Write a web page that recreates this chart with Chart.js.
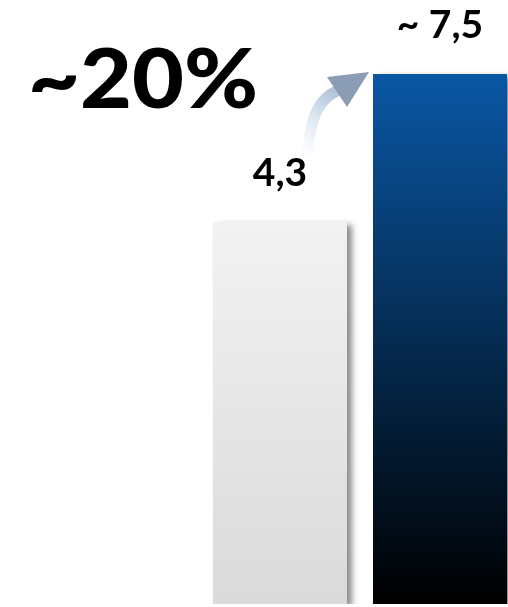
<!DOCTYPE html>
<html>
<head>
<meta charset="utf-8">
<script src="https://cdn.jsdelivr.net/npm/chart.js@4"></script>
<style>
  html, body { margin: 0; padding: 0; background: #fff; overflow: hidden; }
  #wrap { width: 520px; height: 607px; position: relative; }
</style>
</head>
<body>
<div id="wrap"><canvas id="graph"></canvas></div>
<script>
var categories = ['Ist', 'Prognose'];
var values = [4.3, 7.5];
var valueLabels = ['4,3', '~ 7,5'];
var growthLabel = '~20%';
var yMin = -3.96;
var yMax = 9.1;

var context = document.querySelector('#graph').getContext('2d');

function barGradient(ctx, top, bottom, from, to) {
  var g = ctx.createLinearGradient(0, top, 0, bottom);
  g.addColorStop(0, from);
  g.addColorStop(1, to);
  return g;
}

function barFill(c) {
  var chart = c.chart;
  var area = chart.chartArea;
  var yScale = chart.scales.y;
  if (!area || !yScale) return '#ddd';
  var top = yScale.getPixelForValue(values[c.dataIndex]);
  if (!isFinite(top) || !isFinite(area.bottom)) return '#ddd';
  if (c.dataIndex === 0) {
    return barGradient(chart.ctx, top, area.bottom, '#f2f2f2', '#dadada');
  }
  return barGradient(chart.ctx, top, area.bottom, '#0a57a4', '#000000');
}

var decorations = {
  id: 'decorations',
  beforeDatasetsDraw: function(chart) {
    var ctx = chart.ctx;
    ctx.save();
    ctx.shadowColor = 'rgba(0,0,0,0.45)';
    ctx.shadowBlur = 6;
    ctx.shadowOffsetX = 5;
    ctx.shadowOffsetY = 3;
  },
  afterDatasetsDraw: function(chart) {
    var ctx = chart.ctx;
    ctx.restore();
    var bars = chart.getDatasetMeta(0).data;

    // value labels
    ctx.save();
    ctx.fillStyle = '#000';
    ctx.textAlign = 'center';
    ctx.textBaseline = 'alphabetic';
    ctx.font = 'bold 39px Lato';
    bars.forEach(function(b, i) {
      ctx.fillText(valueLabels[i], b.x, b.y - 36);
    });

    // big growth text, stretched a little to the wide original face
    ctx.textAlign = 'left';
    ctx.font = '900 82px Lato';
    var w = ctx.measureText(growthLabel).width;
    ctx.translate(28, 108);
    ctx.scale(230 / w, 1);
    ctx.fillText(growthLabel, 0, 0);
    ctx.restore();

    // curved arrow between the bars
    var a = bars[0], b = bars[1];
    var sx = a.x + 28, sy = a.y - 68;
    var tipX = b.x - b.width / 2 - 4, tipY = b.y - 2;
    ctx.save();
    var grad = ctx.createLinearGradient(sx, sy, tipX, tipY);
    grad.addColorStop(0, 'rgba(220,232,244,0.1)');
    grad.addColorStop(0.5, 'rgba(196,212,230,1)');
    grad.addColorStop(1, '#8a9db3');
    ctx.strokeStyle = grad;
    ctx.lineWidth = 11;
    ctx.beginPath();
    ctx.moveTo(sx, sy);
    ctx.quadraticCurveTo(sx + 2, sy - 58, tipX - 25, tipY + 17);
    ctx.stroke();
    ctx.fillStyle = '#8a9db4';
    ctx.beginPath();
    ctx.moveTo(tipX, tipY);
    ctx.lineTo(tipX - 42, tipY + 5);
    ctx.lineTo(tipX - 22, tipY + 35);
    ctx.closePath();
    ctx.fill();
    ctx.restore();
  }
};

var chart = new Chart(context, {
  type: 'bar',
  data: {
    labels: categories,
    datasets: [{
      data: values,
      base: yMin,
      backgroundColor: barFill,
      borderWidth: 0,
      categoryPercentage: 1,
      barPercentage: 0.8375
    }]
  },
  options: {
    responsive: true,
    maintainAspectRatio: false,
    animation: false,
    layout: { padding: { left: 200, right: 0, top: 0, bottom: 3 } },
    plugins: {
      legend: { display: false },
      tooltip: { enabled: false }
    },
    scales: {
      x: { display: false },
      y: { display: false, min: yMin, max: yMax }
    }
  },
  plugins: [decorations]
});
</script>
</body>
</html>
